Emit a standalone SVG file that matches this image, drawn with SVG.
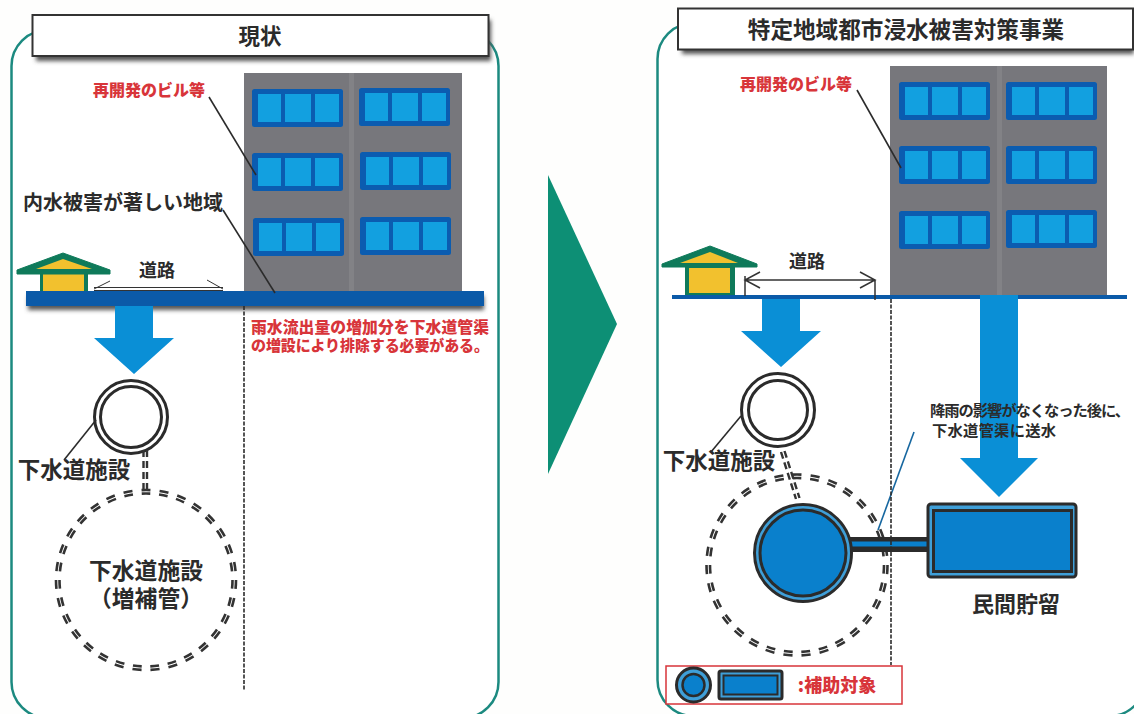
<svg xmlns="http://www.w3.org/2000/svg" xmlns:xlink="http://www.w3.org/1999/xlink" width="1134" height="714" viewBox="0 0 1134 714">
<style>
text{font-family:"Noto Sans CJK JP","Noto Sans",sans-serif;font-weight:700;fill:#2b2b2b;text-anchor:middle}
.red{fill:#d8353a;font-weight:900}
.panel{fill:#fff;stroke:#1c8a80;stroke-width:2.5}
.title{fill:#fff;stroke:#333;stroke-width:2}
.shade{fill:#555;filter:url(#soft)}
.bldg{fill:#77777c}
.seam{fill:#828286}
.frame{fill:#0b5cb0}
.pane{fill:#12a0e0}
.flow{fill:#0a8fd6}
.lead{fill:none;stroke:#2b2b2b;stroke-width:1.6}
.vdash{fill:none;stroke:#2b2b2b;stroke-width:1.6;stroke-dasharray:4 1.5}
.ring{fill:#fff;stroke:#2b2b2b;stroke-width:3}
.dd{fill:none;stroke:#333;stroke-width:2.600;stroke-dasharray:.5 .5}
.dl{fill:none;stroke:#333;stroke-width:2.400;stroke-dasharray:7 4}
.blue{fill:#0a80cc}
.band{fill:#3f9fd8;stroke:#2b2b2b;stroke-width:3}
.thin{fill:none;stroke:#333;stroke-width:1}
</style>
<defs>
<filter id="soft" x="-5%" y="-50%" width="110%" height="200%"><feGaussianBlur stdDeviation="2"/></filter>
<g id="win">
<rect class="frame" width="91" height="38" rx="2.5"/>
<rect class="pane" x="6" y="5" width="23" height="28"/>
<rect class="pane" x="33" y="5" width="26" height="28"/>
<rect class="pane" x="63" y="5" width="24" height="28"/>
</g>
<g id="arrow-small">
<path class="flow" d="M-19 0H19V32H40L0 68-40 32H-19Z"/>
</g>
</defs>
<rect width="1134" height="714" fill="#fefefd"/>

<!-- left side: present state -->
<g id="panel-left">
<rect class="panel" x="11.500" y="30" width="487" height="688" rx="36"/>
<rect class="shade" x="36" y="20" width="455" height="41"/>
<rect class="title" x="32.500" y="15" width="456" height="41"/>
<text x="260" y="44" font-size="21.500">現状</text>
</g>
<g id="building-left">
<rect class="bldg" x="244" y="73" width="218" height="220"/>
<rect class="seam" x="349" y="73" width="5" height="220"/>
<use xlink:href="#win" x="252" y="89"/><use xlink:href="#win" x="359" y="88"/>
<use xlink:href="#win" x="252" y="153"/><use xlink:href="#win" x="360" y="152"/>
<use xlink:href="#win" x="253" y="218"/><use xlink:href="#win" x="360" y="217"/>
</g>
<g id="house-left">
<path d="M40 270H88V292H40Z" fill="#0f7a5a"/>
<rect x="43" y="274" width="41" height="18" fill="#f2c12e"/>
<path d="M17 270 63 253 110 270V274H17Z" fill="#0f7a5a" stroke="#0f7a5a" stroke-linejoin="round"/>
<path d="M36 269 63 259 92 269Z" fill="#f2c12e"/>
</g>
<g id="road-left">
<rect class="shade" x="28" y="296" width="456" height="14"/>
<rect x="26" y="291" width="458" height="15" fill="#0b5aa8"/>
<text x="157" y="277" font-size="18">道路</text>
</g>
<g id="label-redevelop-left"><text class="red" x="149" y="96" font-size="16">再開発のビル等</text></g>
<g id="label-flood"><text x="123" y="210" font-size="20">内水被害が著しい地域</text></g>
<g id="label-note">
<text class="red" font-size="15.800"><tspan x="370" y="333" textLength="238">雨水流出量の増加分を下水道管渠</tspan><tspan x="370" y="351" textLength="238" font-size="15">の増設により排除する必要がある。</tspan></text>
</g>
<g id="sewer-left">
<circle class="ring" cx="131" cy="417" r="36.500"/>
<circle class="ring" cx="131" cy="417" r="30.500"/>
<text x="74" y="478" font-size="22.500">下水道施設</text>
</g>
<g id="sewer-extra-left">
<circle class="dd" cx="146" cy="580" r="86.500" pathLength="31"/>
<circle class="dd" cx="146" cy="580" r="90" pathLength="31"/>
<text font-size="22.800"><tspan x="146" y="579">下水道施設</tspan><tspan x="146" y="607">（増補管）</tspan></text>
</g>

<!-- divider arrow between the two sides -->
<g id="transition"><path d="M548 175 617 324 548 474Z" fill="#0d8f75"/></g>

<!-- right side: project -->
<g id="panel-right">
<rect class="panel" x="657.500" y="23" width="488" height="693" rx="36"/>
<rect class="shade" x="682" y="13" width="452" height="41"/>
<rect class="title" x="678" y="8.500" width="455" height="41"/>
<text x="906" y="38" font-size="22.600">特定地域都市浸水被害対策事業</text>
</g>
<g id="building-right">
<rect class="bldg" x="890" y="66" width="217" height="229"/>
<rect class="seam" x="997" y="66" width="5" height="229"/>
<use xlink:href="#win" x="899" y="82"/><use xlink:href="#win" x="1006" y="82"/>
<use xlink:href="#win" x="899" y="146"/><use xlink:href="#win" x="1006" y="146"/>
<use xlink:href="#win" x="899" y="211"/><use xlink:href="#win" x="1006" y="210"/>
</g>
<g id="house-right">
<path d="M685 264H735V295H685Z" fill="#0f7a5a"/>
<rect x="689" y="268" width="41" height="25" fill="#f2c12e"/>
<path d="M662 264 710 246 757 264V267H662Z" fill="#0f7a5a" stroke="#0f7a5a" stroke-linejoin="round"/>
<path d="M680 263 710 252 738 263Z" fill="#f2c12e"/>
</g>
<g id="road-right">
<rect x="672" y="295" width="455" height="4" fill="#0b5aa8"/>
<text x="807" y="268" font-size="18">道路</text>
</g>
<g id="label-redevelop-right"><text class="red" x="796" y="90" font-size="16">再開発のビル等</text></g>
<g id="sewer-right">
<circle class="dd" cx="797" cy="565" r="87" pathLength="31"/>
<circle class="dd" cx="797" cy="565" r="90.500" pathLength="31"/>
<circle class="ring" cx="778" cy="410" r="36.500"/>
<circle class="ring" cx="778" cy="410" r="29.500"/>
<text x="719" y="469" font-size="22.500">下水道施設</text>
</g>
<g id="storage-pipe">
<rect x="850" y="537" width="78" height="15" fill="#2b2b2b"/>
<rect x="850" y="541.500" width="78" height="5" class="blue"/>
</g>
<g id="storage-round">
<circle cx="803" cy="553" r="48.500" class="band"/>
<circle cx="803" cy="553" r="43" class="blue" stroke="#2b2b2b" stroke-width="3"/>
</g>
<g id="storage-tank">
<rect x="928" y="504" width="148" height="73" rx="3" class="band"/>
<rect x="933.500" y="510.500" width="138" height="61" class="blue" stroke="#2b2b2b" stroke-width="3"/>
<text x="1016" y="612" font-size="22">民間貯留</text>
</g>
<g id="legend">
<rect x="666" y="666" width="236" height="38" fill="#fff" stroke="#d8353a" stroke-width="1.500"/>
<circle cx="693.500" cy="685" r="17" class="band"/>
<circle cx="693.500" cy="685" r="11" class="blue" stroke="#2b2b2b" stroke-width="2.500"/>
<rect x="719" y="671" width="63" height="28" rx="2" class="band"/>
<rect x="723.500" y="675.500" width="54" height="19" class="blue" stroke="#2b2b2b" stroke-width="2"/>
<text class="red" x="837" y="692" font-size="18">:補助対象</text>
</g>

<!-- leaders, flow arrows and dividers -->
<g id="connectors">
<use xlink:href="#arrow-small" x="134" y="306"/>
<use xlink:href="#arrow-small" x="781" y="299"/>
<path class="flow" d="M980 295H1018V458H1038L999 497 960 458H980Z"/>
<path class="lead" d="M209 97 256 175"/>
<path class="lead" d="M223 210 275 293"/>
<path class="lead" d="M96 420 64 460"/>
<path class="lead" d="M857 90 901 168"/>
<path class="lead" d="M741 416 711 452"/>
<path class="lead" d="M914 432 878 530" style="stroke:#1767a0"/>
<path class="vdash" d="M244 306V690"/>
<path class="vdash" d="M891 299V665"/>
<path class="dl" d="M143.500 450V492M147 450V492"/>
<path class="dl" d="M781 452 796 499M784.500 451 799.500 498"/>
<path class="thin" d="M94 287.500H223M94 290.500H223M110 281 94 289M207 280 223 289"/>
<path class="thin" d="M745 280H875M745 276V296M875 280V300M760 272 745 280 760 288M860 272 875 280 860 288" style="stroke-width:1.500"/>
</g>

<!-- this note sits on top of the large flow arrow -->
<g id="label-after-rain">
<text x="1030" y="415.500" font-size="15.300" textLength="200">降雨の影響がなくなった後に、</text>
<text x="994" y="435.500" font-size="15.300" textLength="124">下水道管渠に送水</text>
</g>
</svg>
